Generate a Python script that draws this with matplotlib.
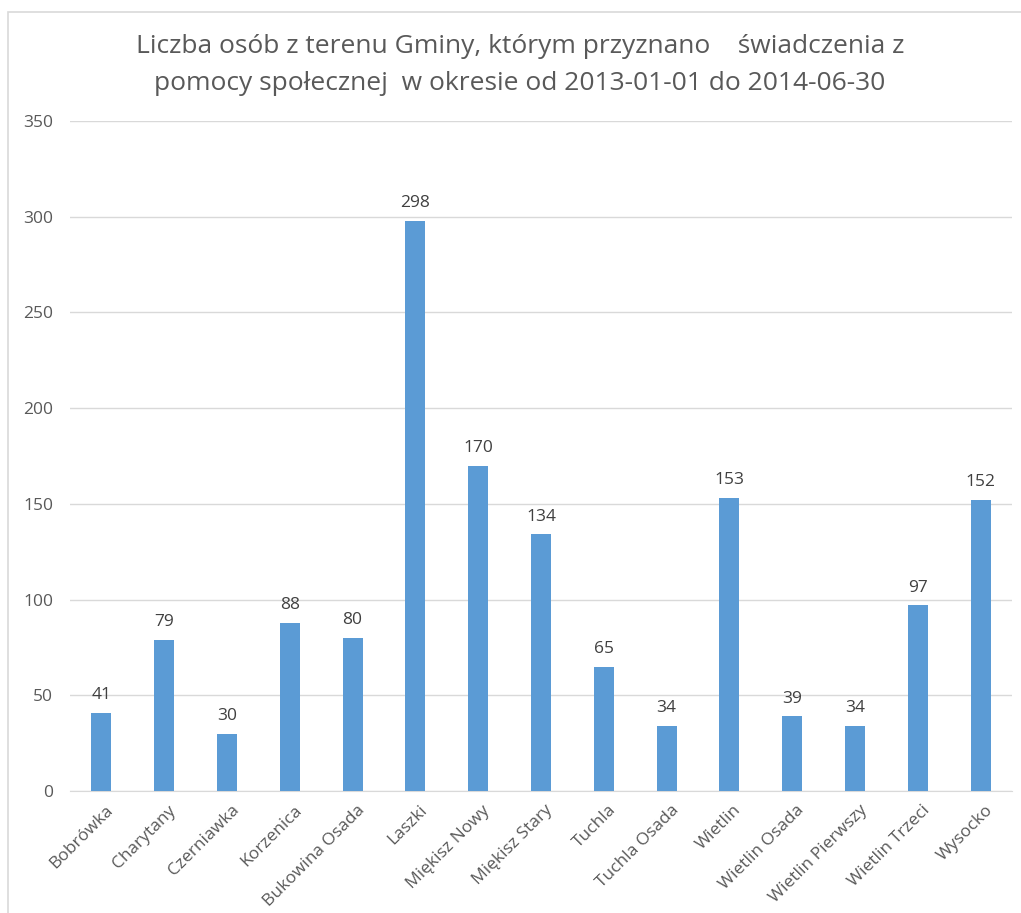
import matplotlib
matplotlib.use("Agg")
import matplotlib.pyplot as plt
from matplotlib.patches import Rectangle
from matplotlib.transforms import ScaledTranslation

categories = ["Bobrówka", "Charytany", "Czerniawka", "Korzenica", "Bukowina Osada",
              "Laszki", "Miękisz Nowy", "Miękisz Stary", "Tuchla", "Tuchla Osada",
              "Wietlin", "Wietlin Osada", "Wietlin Pierwszy", "Wietlin Trzeci", "Wysocko"]
values = [41, 79, 30, 88, 80, 298, 170, 134, 65, 34, 153, 39, 34, 97, 152]
yticks = [0, 50, 100, 150, 200, 250, 300, 350]
title = "Liczba osób z terenu Gminy, którym przyznano    świadczenia z\npomocy społecznej  w okresie od 2013-01-01 do 2014-06-30"

plt.rcParams['font.family'] = ['Open Sans', 'DejaVu Sans']
W, H = 1021, 913
fig = plt.figure(figsize=(W/100, H/100), dpi=100)
fig.patch.set_facecolor("white")

# border
fig.add_artist(Rectangle((8/W, -0.1), 1.2, (H-12)/H + 0.1, transform=fig.transFigure,
                         fill=False, edgecolor="#d9d9d9", linewidth=1.2))

ax = fig.add_axes([70/W, 1-791/H, 942/W, 670/H])
x = list(range(len(categories)))
ax.bar(x, values, width=0.32, color="#5B9BD5", zorder=3)
ax.set_xlim(-0.5, len(categories)-0.5)
ax.set_ylim(0, 350)
ax.set_yticks(yticks)
ax.set_yticklabels([str(t) for t in yticks], fontsize=12.5, color="#595959")
ax.yaxis.grid(True, color="#d9d9d9", linewidth=1, zorder=0)
for s in ["top", "right", "left"]:
    ax.spines[s].set_visible(False)
ax.spines["bottom"].set_color("#d9d9d9")
ax.tick_params(axis="both", length=0)
ax.tick_params(axis="y", pad=12)
ax.set_xticks(x)
ax.set_xticklabels(categories, rotation=45, ha="right", rotation_mode="anchor",
                   fontsize=12.5, color="#595959")
ax.tick_params(axis="x", pad=8)
off = ScaledTranslation(4/100, 0, fig.dpi_scale_trans)
for lbl in ax.get_xticklabels():
    lbl.set_transform(lbl.get_transform() + off)
for xi, v in zip(x, values):
    ax.annotate(str(v), (xi, v), xytext=(0, 7), textcoords="offset points",
                ha="center", va="bottom", fontsize=12.5, color="#404040")

fig.text(520/W, 1-65/H, title, ha="center", va="center", fontsize=19,
         color="#595959", linespacing=1.68)

fig.savefig("out.png", dpi=100)
